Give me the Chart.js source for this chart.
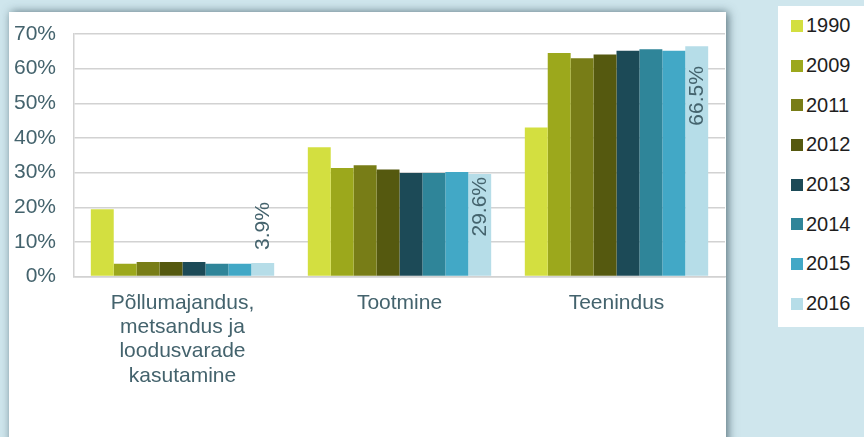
<!DOCTYPE html>
<html>
<head>
<meta charset="utf-8">
<script src="https://cdn.jsdelivr.net/npm/chart.js@4"></script>
<style>
  html, body { margin: 0; padding: 0; }
  body { width: 864px; height: 437px; background: #cfe6ed; position: relative; overflow: hidden; font-family: "Liberation Sans", Arial, sans-serif; }
  #panel { position: absolute; left: 9px; top: 12px; width: 717px; height: 440px; background: #fff; box-shadow: 2px 0 9px rgba(50, 75, 85, 0.75); }
  #chartBox { position: absolute; left: 0; top: 0; width: 864px; height: 437px; }
  #legend { position: absolute; left: 778px; top: 6px; width: 86px; height: 321px; background: #fff; margin: 0; padding: 0; list-style: none; }
  #legend li { height: 39.7px; display: flex; align-items: center; font-size: 20px; color: #1e1e1e; }
  #legend span { display: inline-block; width: 12px; height: 12px; margin-left: 13px; margin-right: 3px; }
</style>
</head>
<body>
<div id="panel"></div>
<div id="chartBox"><canvas id="chart"></canvas></div>
<ul id="legend"></ul>
<script>
// categories and series
let categories = [
  ["Põllumajandus,", "metsandus ja", "loodusvarade", "kasutamine"],
  "Tootmine",
  "Teenindus",
];
let years = ["1990", "2009", "2011", "2012", "2013", "2014", "2015", "2016"];
let v1990 = [19.4, 37.3, 43.0];
let v2009 = [3.7, 31.3, 64.5];
let v2011 = [4.2, 32.1, 63.0];
let v2012 = [4.2, 30.9, 64.1];
let v2013 = [4.2, 29.9, 65.2];
let v2014 = [3.7, 29.9, 65.6];
let v2015 = [3.7, 30.2, 65.2];
let v2016 = [3.9, 29.6, 66.5];
let yTicks = [0, 10, 20, 30, 40, 50, 60, 70];

let colors = ["#d3df40", "#9ca81c", "#787d17", "#55590f", "#1c4a57", "#2f8599", "#42a8c6", "#b6dde8"];
let series = [v1990, v2009, v2011, v2012, v2013, v2014, v2015, v2016];

let textColor = "#44636d";
let gridColor = "#d2d2d2";
let fontFamily = "'Liberation Sans', Arial, sans-serif";

// rotated value labels on the last series
let lastLabels = {
  id: "lastLabels",
  afterDatasetsDraw(chart) {
    let ctx = chart.ctx;
    let i = chart.data.datasets.length - 1;
    let meta = chart.getDatasetMeta(i);
    let shifts = [-13, 3, 20]; // negative = above the bar
    ctx.save();
    ctx.fillStyle = textColor;
    ctx.font = "21px " + fontFamily;
    ctx.textBaseline = "middle";
    meta.data.forEach((bar, j) => {
      let val = chart.data.datasets[i].data[j];
      let s = shifts[j];
      ctx.save();
      ctx.translate(bar.x, bar.y + s);
      ctx.rotate(-Math.PI / 2);
      ctx.textAlign = s < 0 ? "left" : "right";
      ctx.fillText(val.toFixed(1) + "%", 0, 0);
      ctx.restore();
    });
    ctx.restore();
  },
};

let chart = new Chart(document.getElementById("chart"), {
  type: "bar",
  data: {
    labels: categories,
    datasets: series.map((d, k) => ({
      label: years[k],
      data: d,
      backgroundColor: colors[k],
      borderWidth: 0,
      categoryPercentage: 0.845,
      barPercentage: 1,
    })),
  },
  options: {
    responsive: false,
    animation: false,
    devicePixelRatio: 1,
    layout: { autoPadding: false, padding: { left: 14, right: 139, top: 34, bottom: 30 } },
    plugins: { legend: { display: false }, tooltip: { enabled: false } },
    scales: {
      x: {
        grid: { display: false, drawTicks: false },
        border: { color: gridColor, width: 1.5 },
        ticks: {
          color: textColor,
          padding: 14,
          maxRotation: 0,
          font: { family: fontFamily, size: 21, lineHeight: 1.16 },
        },
      },
      y: {
        min: 0,
        max: 70,
        afterBuildTicks: (axis) => { axis.ticks = yTicks.map((v) => ({ value: v })); },
        afterFit: (axis) => { axis.width = 60; },
        grid: { color: gridColor, lineWidth: 1.5, drawTicks: false },
        border: { color: gridColor, width: 1.5 },
        ticks: {
          color: textColor,
          padding: 18,
          font: { family: fontFamily, size: 21 },
          callback: (v) => v + "%",
        },
      },
    },
  },
  plugins: [lastLabels],
});
chart.resize(864, 437);

// legend list built from the datasets
let legend = document.getElementById("legend");
chart.data.datasets.forEach((ds) => {
  let li = document.createElement("li");
  let box = document.createElement("span");
  box.style.background = ds.backgroundColor;
  li.appendChild(box);
  li.appendChild(document.createTextNode(ds.label));
  legend.appendChild(li);
});
</script>
</body>
</html>
